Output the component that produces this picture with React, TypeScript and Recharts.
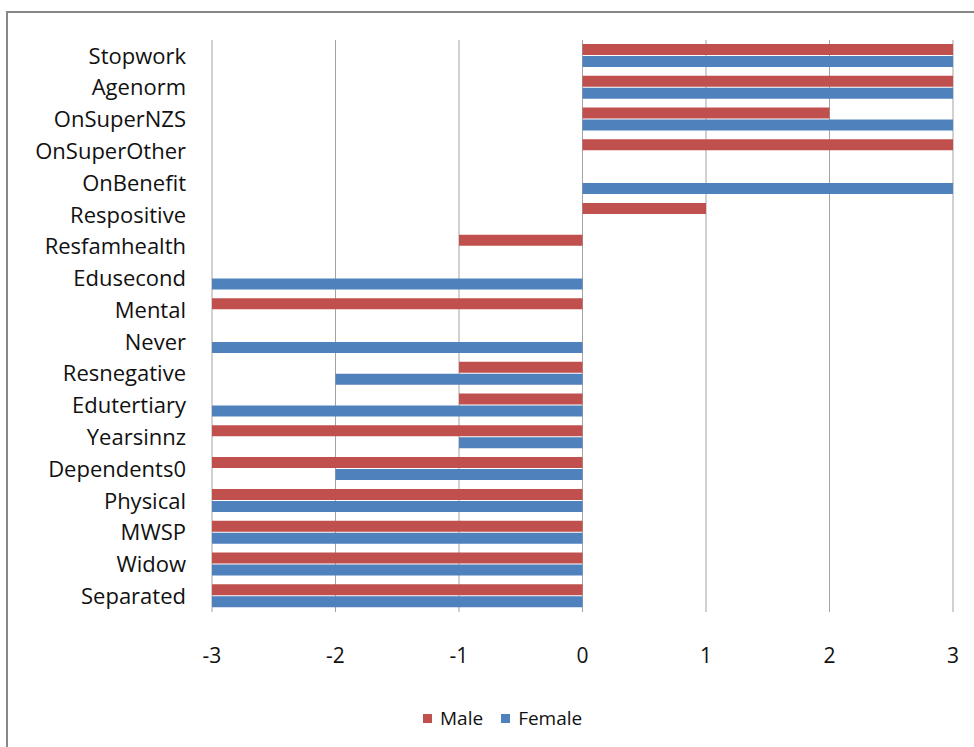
import { Bar, BarChart, CartesianGrid, Legend, XAxis, YAxis } from 'recharts';

const categories = [
  'Stopwork',
  'Agenorm',
  'OnSuperNZS',
  'OnSuperOther',
  'OnBenefit',
  'Respositive',
  'Resfamhealth',
  'Edusecond',
  'Mental',
  'Never',
  'Resnegative',
  'Edutertiary',
  'Yearsinnz',
  'Dependents0',
  'Physical',
  'MWSP',
  'Widow',
  'Separated',
];

const maleValues = [3, 3, 2, 3, 0, 1, -1, 0, -3, 0, -1, -1, -3, -3, -3, -3, -3, -3];
const femaleValues = [3, 3, 3, 0, 3, 0, 0, -3, 0, -3, -2, -3, -1, -2, -3, -3, -3, -3];

const xTicks = [-3, -2, -1, 0, 1, 2, 3];

const MALE_COLOR = '#C0504D';
const FEMALE_COLOR = '#4F81BD';
const FONT = '"Open Sans", sans-serif';

const data = categories.map((name, i) => ({
  name,
  male: maleValues[i],
  female: femaleValues[i],
}));

function LegendBox() {
  const items = [
    { label: 'Male', color: MALE_COLOR },
    { label: 'Female', color: FEMALE_COLOR },
  ];
  return (
    <div style={{ display: 'flex', alignItems: 'center', fontFamily: FONT, fontSize: 19, color: '#111' }}>
      {items.map((item) => (
        <div key={item.label} style={{ display: 'flex', alignItems: 'center', marginRight: 18 }}>
          <span style={{ width: 9, height: 9, background: item.color, marginRight: 8 }} />
          <span>{item.label}</span>
        </div>
      ))}
    </div>
  );
}

export default function App() {
  return (
    <div style={{ position: 'fixed', left: 0, top: 0, width: 974, height: 747, overflow: 'hidden', background: '#fff' }}>
      <div
        style={{
          position: 'absolute',
          left: 6,
          top: 11,
          width: 1000,
          height: 1000,
          border: '2px solid #878787',
        }}
      />
      <div style={{ position: 'absolute', left: 0, top: 0 }}>
        <BarChart
          width={974}
          height={747}
          data={data}
          layout="vertical"
          margin={{ top: 40, right: 21, bottom: 75, left: 0 }}
          barSize={11}
          barGap={1}
        >
          <CartesianGrid horizontal={false} stroke="#a3a3a3" />
          <XAxis
            type="number"
            domain={[-3, 3]}
            ticks={xTicks}
            axisLine={false}
            tickLine={false}
            tickMargin={30}
            height={60}
            tick={{ fill: '#111', fontSize: 21, fontFamily: FONT }}
          />
          <YAxis
            type="category"
            dataKey="name"
            width={212}
            axisLine={false}
            tickLine={false}
            tickMargin={20}
            interval={0}
            tick={{ fill: '#111', fontSize: 22, fontFamily: FONT }}
          />
          <Legend
            layout="horizontal"
            verticalAlign="middle"
            align="center"
            wrapperStyle={{ top: 705, left: 423, width: 'auto' }}
            content={() => <LegendBox />}
          />
          <Bar dataKey="male" name="Male" fill={MALE_COLOR} isAnimationActive={false} />
          <Bar dataKey="female" name="Female" fill={FEMALE_COLOR} isAnimationActive={false} />
        </BarChart>
      </div>
    </div>
  );
}
